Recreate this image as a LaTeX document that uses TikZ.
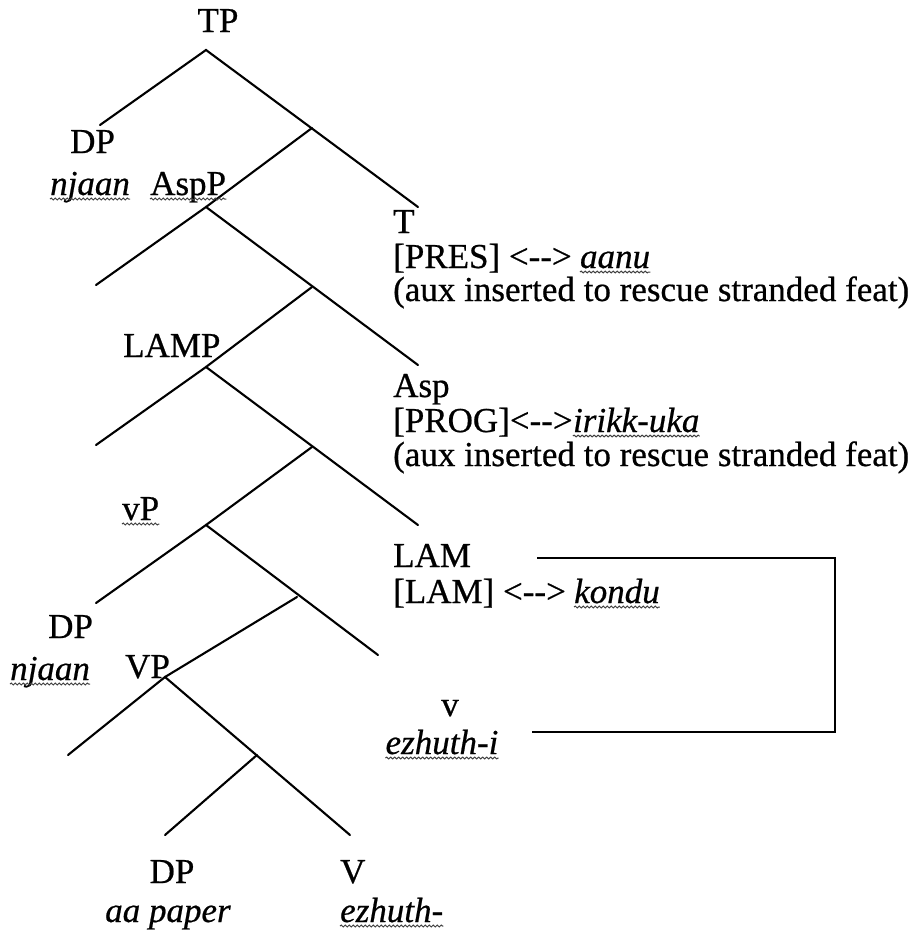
\documentclass[tikz,border=0pt]{standalone}
\usepackage{fontspec}
\setmainfont{Liberation Serif}[FakeBold=0.6]
\usetikzlibrary{decorations.pathmorphing}
\begin{document}
\begin{tikzpicture}[x=1pt,y=-1pt,
  br/.style={line width=2.1pt, line cap=round},
  lbl/.style={inner sep=0pt, anchor=base west, font=\fontsize{35}{38}\selectfont},
  wave/.style={decorate, decoration={snake, amplitude=0.9pt, segment length=4pt}, line width=1pt, black!75},
  boxline/.style={line width=2.1pt}]
\useasboundingbox (0,0) rectangle (922,932);
% tree points
\coordinate (tp) at (206,50);
\coordinate (tpL) at (100,125);
\coordinate (tpR) at (418,207);
\coordinate (j1) at (312,128);
\coordinate (asp) at (206,207);
\coordinate (aspL) at (96,285);
\coordinate (aspR) at (418,365);
\coordinate (j2) at (312,287);
\coordinate (lamp) at (206,367);
\coordinate (lampL) at (96,445);
\coordinate (lampR) at (418,525);
\coordinate (j3) at (312,447);
\coordinate (vp) at (206,525);
\coordinate (vpL) at (96,603);
\coordinate (vpR) at (378,655);
\coordinate (j4) at (297,597);
\coordinate (VP) at (165,677);
\coordinate (VPL) at (68,755);
\coordinate (VPR) at (350,835);
\coordinate (j5) at (257,755);
\coordinate (dpo) at (165,835);
\draw[br] (tpL) -- (tp) -- (tpR);
\draw[br] (j1) -- (asp);
\draw[br] (aspL) -- (asp) -- (aspR);
\draw[br] (j2) -- (lamp);
\draw[br] (lampL) -- (lamp) -- (lampR);
\draw[br] (j3) -- (vp);
\draw[br] (vpL) -- (vp) -- (vpR);
\draw[br] (j4) -- (VP);
\draw[br] (VPL) -- (VP) -- (VPR);
\draw[br] (j5) -- (dpo);
% labels
\node[lbl, anchor=base] (tpT) at (218,32) {TP};
\node[lbl] (dp1) at (70,153) {DP};
\node[lbl] (nj1) at (50,195) {\textit{njaan}};
\node[lbl] (aspT) at (150,195) {AspP};
\node[lbl] (lampT) at (123,357) {LAMP};
\node[lbl] (vpT) at (122,520) {vP};
\node[lbl] (dp2) at (48,638) {DP};
\node[lbl] (nj2) at (10,680) {\textit{njaan}};
\node[lbl] (VPT) at (125,678) {VP};
% right column
\node[lbl] (T) at (393,233) {T};
\node[lbl] (pres) at (393,268) {[PRES] <{-}{-}>};
\node[lbl] (aanu) at ([xshift=8pt]pres.base east) {\textit{aanu}};
\node[lbl] (aux1) at (393,301) {(aux inserted to rescue stranded feat)};
\node[lbl] (Asp) at (393,397) {Asp};
\node[lbl] (prog) at (393,432) {[PROG]<{-}{-}>};
\node[lbl] (irikk) at (prog.base east) {\textit{irikk-uka}};
\node[lbl] (aux2) at (393,466) {(aux inserted to rescue stranded feat)};
\node[lbl] (LAM) at (393,567) {LAM};
\node[lbl] (lamf) at (393,603) {[LAM] <{-}{-}>};
\node[lbl] (kondu) at ([xshift=8pt]lamf.base east) {\textit{kondu}};
\node[lbl, anchor=base] (vsm) at (450,716) {v};
\node[lbl, anchor=base] (ezi) at (442,754) {\textit{ezhuth-i}};
\node[lbl, anchor=base] (dp3) at (172,883) {DP};
\node[lbl, anchor=base] (aap) at (168,922) {\textit{aa paper}};
\node[lbl] (Vbig) at (340,883) {V};
\node[lbl] (ez) at (340,922) {\textit{ezhuth-}};
% wavy underlines
\foreach \w in {nj1,aspT,vpT,nj2,aanu,irikk,kondu,ezi,ez}
  \draw[wave] ([yshift=-4pt]\w.base west) -- ([yshift=-4pt]\w.base east);
% bracket line linking LAM and v
\coordinate (bx1) at (537,558);
\coordinate (bx2) at (835,558);
\coordinate (bx3) at (835,732);
\coordinate (bx4) at (532,732);
\draw[boxline] (bx1) -- (bx2) -- (bx3) -- (bx4);
\end{tikzpicture}
\end{document}
